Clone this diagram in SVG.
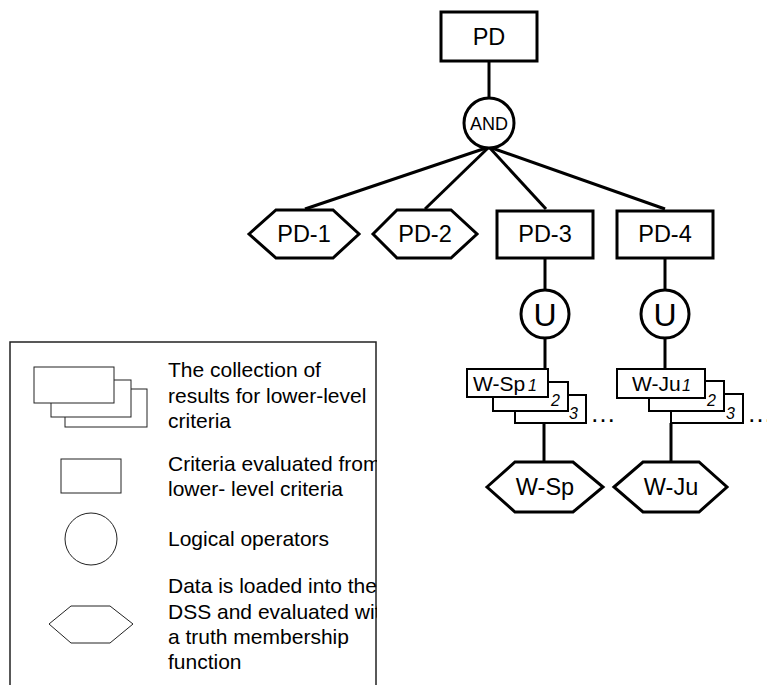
<svg xmlns="http://www.w3.org/2000/svg" width="767" height="685" viewBox="0 0 767 685">
<style>
  text { font-family: "Liberation Sans", Arial, sans-serif; fill: #000; }
  .node { fill: #fff; stroke: #000; stroke-width: 3; }
  .stack { fill: #fff; stroke: #000; stroke-width: 2; }
  .edge { stroke: #000; stroke-width: 3; fill: none; }
  .lbl { font-size: 23.5px; text-anchor: middle; }
  .sub { font-style: italic; font-size: 16px; }
  .slbl { font-size: 21px; }
  .leg { fill: #fff; stroke: #222; stroke-width: 1; }
  .legtxt { font-size: 21px; }
</style>
<defs>
  <clipPath id="legclip"><rect x="10" y="342" width="367" height="343"/></clipPath>
</defs>
<rect width="767" height="685" fill="#fff"/>

<g id="connectors">
  <line class="edge" x1="489" y1="61" x2="489" y2="99"/>
  <line class="edge" x1="489" y1="147" x2="305" y2="209"/>
  <line class="edge" x1="489" y1="147" x2="425" y2="209"/>
  <line class="edge" x1="489" y1="147" x2="546" y2="209"/>
  <line class="edge" x1="489" y1="147" x2="665" y2="209"/>
  <line class="edge" x1="545" y1="258" x2="545" y2="290"/>
  <line class="edge" x1="545" y1="338" x2="545" y2="369"/>
  <line class="edge" x1="544" y1="423" x2="544" y2="462"/>
  <line class="edge" x1="665" y1="258" x2="665" y2="290"/>
  <line class="edge" x1="665" y1="338" x2="665" y2="369"/>
  <line class="edge" x1="671" y1="423" x2="671" y2="462"/>
</g>

<g id="PD">
  <rect class="node" x="441" y="12" width="96" height="49"/>
  <text class="lbl" x="489" y="44.5">PD</text>
</g>
<g id="AND">
  <circle class="node" cx="489" cy="123" r="25"/>
  <text x="489" y="129.5" font-size="18" text-anchor="middle">AND</text>
</g>
<g id="PD-1">
  <polygon class="node" points="249,234 276,210 333,210 359,234 333,258 276,258"/>
  <text class="lbl" x="304" y="242">PD-1</text>
</g>
<g id="PD-2">
  <polygon class="node" points="373,234 397,210 451,210 477,234 451,258 397,258"/>
  <text class="lbl" x="425" y="242">PD-2</text>
</g>
<g id="PD-3">
  <rect class="node" x="497" y="211" width="96" height="47"/>
  <text class="lbl" x="545" y="242">PD-3</text>
</g>
<g id="PD-4">
  <rect class="node" x="617" y="211" width="96" height="47"/>
  <text class="lbl" x="665" y="242">PD-4</text>
</g>
<g id="U-1">
  <circle class="node" cx="545" cy="314" r="24"/>
  <text x="545" y="325.5" font-size="32" text-anchor="middle">U</text>
</g>
<g id="U-2">
  <circle class="node" cx="665" cy="314" r="24"/>
  <text x="665" y="325.5" font-size="32" text-anchor="middle">U</text>
</g>
<g id="W-Sp-stack">
  <rect class="stack" x="515" y="395" width="71" height="28"/>
  <rect class="stack" x="493" y="382" width="75" height="29"/>
  <rect class="stack" x="467" y="369" width="81" height="28"/>
  <text class="slbl" x="473" y="390.5">W-Sp</text>
  <text class="sub" x="528" y="391">1</text>
  <text class="sub" x="551" y="405.5">2</text>
  <text class="sub" x="569" y="418.5">3</text>
  <text x="590" y="422" font-size="26">…</text>
</g>
<g id="W-Ju-stack">
  <rect class="stack" x="671" y="394" width="72" height="29"/>
  <rect class="stack" x="649" y="381" width="75" height="30"/>
  <rect class="stack" x="617" y="369" width="88" height="29"/>
  <text class="slbl" x="632" y="390.5">W-Ju</text>
  <text class="sub" x="682" y="391">1</text>
  <text class="sub" x="707" y="405.5">2</text>
  <text class="sub" x="726" y="419">3</text>
  <text x="747" y="422" font-size="26">…</text>
</g>
<g id="W-Sp">
  <polygon class="node" points="487,487 515,462 573,462 603,487 573,512 515,512"/>
  <text class="lbl" x="545" y="495">W-Sp</text>
</g>
<g id="W-Ju">
  <polygon class="node" points="614,487 643,462 699,462 727,487 699,512 643,512"/>
  <text class="lbl" x="671" y="495">W-Ju</text>
</g>

<g id="legend">
  <rect x="10" y="342" width="366" height="360" fill="none" stroke="#222" stroke-width="1.5"/>
  <rect class="leg" x="65" y="389" width="82" height="38"/>
  <rect class="leg" x="51" y="380" width="80" height="37"/>
  <rect class="leg" x="34" y="367" width="80" height="36"/>
  <rect class="leg" x="61" y="459" width="60" height="34"/>
  <circle class="leg" cx="91" cy="539" r="26"/>
  <polygon class="leg" points="49,624 71,606 110,606 133,624 110,643 71,643"/>
  <g clip-path="url(#legclip)" class="legtxt">
    <text x="168" y="377">The collection of</text>
    <text x="168" y="403">results for lower-level</text>
    <text x="168" y="428">criteria</text>
    <text x="168" y="471">Criteria evaluated from</text>
    <text x="168" y="496">lower- level criteria</text>
    <text x="168" y="546">Logical operators</text>
    <text x="168" y="593">Data is loaded into the</text>
    <text x="168" y="619">DSS and evaluated with</text>
    <text x="168" y="644">a truth membership</text>
    <text x="168" y="669">function</text>
  </g>
</g>
</svg>
